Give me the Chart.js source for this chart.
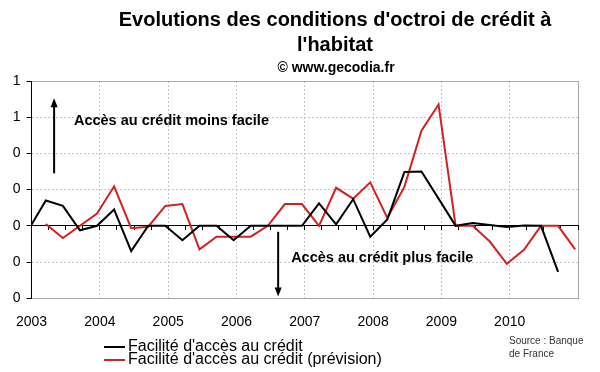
<!DOCTYPE html>
<html>
<head>
<meta charset="utf-8">
<script src="https://cdn.jsdelivr.net/npm/chart.js@4"></script>
<style>
  body { margin: 0; background: #fff; }
  #wrap { width: 600px; height: 372px; position: relative; }
</style>
</head>
<body>
<div id="wrap"><canvas id="credit-chart"></canvas></div>
<script>
// quarters (T4 2002 -> T4 2010)
const quarters = ['2002T4',
  '2003T1', '2003T2', '2003T3', '2003T4',
  '2004T1', '2004T2', '2004T3', '2004T4',
  '2005T1', '2005T2', '2005T3', '2005T4',
  '2006T1', '2006T2', '2006T3', '2006T4',
  '2007T1', '2007T2', '2007T3', '2007T4',
  '2008T1', '2008T2', '2008T3', '2008T4',
  '2009T1', '2009T2', '2009T3', '2009T4',
  '2010T1', '2010T2', '2010T3', '2010T4'];

const facilite = [-0.02,
  0.14, 0.11, -0.025, 0,
  0.09, -0.14, 0, 0,
  -0.08, 0, 0, -0.08,
  0, 0, 0, 0,
  0.124, 0.008, 0.147, -0.06,
  0.035, 0.297, 0.30, 0.15,
  0, 0.015, 0.005, -0.007,
  0.002, 0, -0.255, null];

const prevision = [null,
  0.01, -0.068, 0, 0.068,
  0.218, -0.013, -0.005, 0.11,
  0.12, -0.13, -0.06, -0.06,
  -0.06, 0, 0.12, 0.12,
  0, 0.21, 0.15, 0.24,
  0.044, 0.215, 0.526, 0.67,
  0, 0, -0.087, -0.21,
  -0.133, 0, 0, -0.13];

const xTickLabels = ['2003', '2004', '2005', '2006', '2007', '2008', '2009', '2010', ''];
const yTickLabels = ['0', '0', '0', '0', '0', '1', '1'];   // bottom -> top

const titleLines = ["Evolutions des conditions d'octroi de crédit à", "l'habitat"];
const subtitle = '© www.gecodia.fr';
const sourceLines = ['Source : Banque', 'de France'];

const FONT = "'Liberation Sans', Arial, sans-serif";
Chart.defaults.font.family = FONT;
Chart.defaults.color = '#000';

// quarter -> decimal year, placed on the last month of the quarter
function qToX(q) {
  const y = parseInt(q.slice(0, 4));
  const t = parseInt(q.slice(5));
  return y + (3 * t - 0.5) / 12;
}
function pts(vals) {
  return quarters.map((q, i) => ({ x: qToX(q), y: vals[i] }));
}

function arrow(c, x, y1, y2) {
  const dir = y2 < y1 ? -1 : 1;
  c.beginPath();
  c.moveTo(x, y1);
  c.lineTo(x, y2 - dir * 7);
  c.stroke();
  c.beginPath();
  c.moveTo(x, y2);
  c.lineTo(x - 3.5, y2 - dir * 9);
  c.lineTo(x + 3.5, y2 - dir * 9);
  c.closePath();
  c.fill();
}

const decor = {
  id: 'decor',
  afterDraw(chart) {
    const c = chart.ctx;
    const sx = chart.scales.x, sy = chart.scales.y;
    c.save();
    c.fillStyle = '#000';
    c.strokeStyle = '#000';
    c.textBaseline = 'middle';

    // title
    c.textAlign = 'center';
    c.font = 'bold 20px ' + FONT;
    c.fillText(titleLines[0], 335, 20);
    c.fillText(titleLines[1], 335, 45);
    c.font = 'bold 14px ' + FONT;
    c.fillText(subtitle, 336, 68);

    // annotations
    c.textAlign = 'left';
    c.font = 'bold 14.5px ' + FONT;
    c.fillText('Accès au crédit moins facile', sx.getPixelForValue(2003.62), sy.getPixelForValue(0.58));
    c.fillText('Accès au crédit plus facile', sx.getPixelForValue(2006.8), sy.getPixelForValue(-0.176));
    c.lineWidth = 2;
    arrow(c, sx.getPixelForValue(2003.33), sy.getPixelForValue(0.29), sy.getPixelForValue(0.705));
    arrow(c, sx.getPixelForValue(2006.61), sy.getPixelForValue(-0.033), sy.getPixelForValue(-0.39));

    // legend
    c.font = '16px ' + FONT;
    chart.data.datasets.forEach((ds, i) => {
      const y = 347 + i * 13;
      c.strokeStyle = ds.borderColor;
      c.lineWidth = 2;
      c.beginPath();
      c.moveTo(104, y);
      c.lineTo(125, y);
      c.stroke();
      c.fillStyle = '#000';
      c.fillText(ds.label, 128, y);
    });

    // source
    c.font = '10px ' + FONT;
    c.fillStyle = '#333';
    sourceLines.forEach((s, i) => c.fillText(s, 509, 341 + i * 13));
    c.restore();
  }
};

new Chart(document.getElementById('credit-chart'), {
  type: 'line',
  data: {
    datasets: [{
      label: "Facilité d'accès au crédit",
      data: pts(facilite),
      borderColor: '#000',
      borderWidth: 2,
      pointRadius: 0,
      tension: 0,
      spanGaps: false
    }, {
      label: "Facilité d'accès au crédit (prévision)",
      data: pts(prevision),
      borderColor: '#d42020',
      borderWidth: 2,
      pointRadius: 0,
      tension: 0
    }]
  },
  options: {
    responsive: true,
    maintainAspectRatio: false,
    animation: false,
    layout: { padding: { top: 81, left: 2, right: 22, bottom: 25 } },
    plugins: {
      legend: { display: false },
      title: { display: false },
      tooltip: { enabled: false }
    },
    scales: {
      x: {
        type: 'linear',
        min: 2003,
        max: 2011,
        ticks: {
          stepSize: 1,
          padding: 16,
          font: { size: 14 },
          maxRotation: 0,
          callback: (v, i) => xTickLabels[i]
        },
        grid: {
          color: c => c.tick && c.tick.value === 2011 ? '#a8a8a8' : '#c4c4c4',
          drawTicks: false
        },
        border: {
          color: '#a8a8a8',
          dash: c => c.tick && c.tick.value === 2011 ? [] : [2, 2]
        }
      },
      x2: {
        type: 'linear',
        axis: 'x',
        position: { y: 0 },
        min: 2003,
        max: 2011,
        ticks: { display: false, stepSize: 0.25 },
        grid: { drawOnChartArea: false, tickLength: 4, color: '#000' },
        border: { color: '#000', width: 1 }
      },
      y: {
        min: -0.4,
        max: 0.8,
        afterFit: scale => { scale.width = 24; },
        ticks: {
          stepSize: 0.2,
          padding: 6,
          font: { size: 14 },
          callback: (v, i) => yTickLabels[i]
        },
        grid: {
          color: c => {
            if (!c.tick) return '#c4c4c4';
            if (Math.abs(c.tick.value - 0.8) < 1e-6) return '#a8a8a8';
            return '#c4c4c4';
          },
          tickColor: '#000',
          tickLength: 5
        },
        border: {
          color: '#000',
          dash: c => c.tick && Math.abs(c.tick.value - 0.8) < 1e-6 ? [] : [2, 2]
        }
      }
    }
  },
  plugins: [decor]
});
</script>
</body>
</html>
